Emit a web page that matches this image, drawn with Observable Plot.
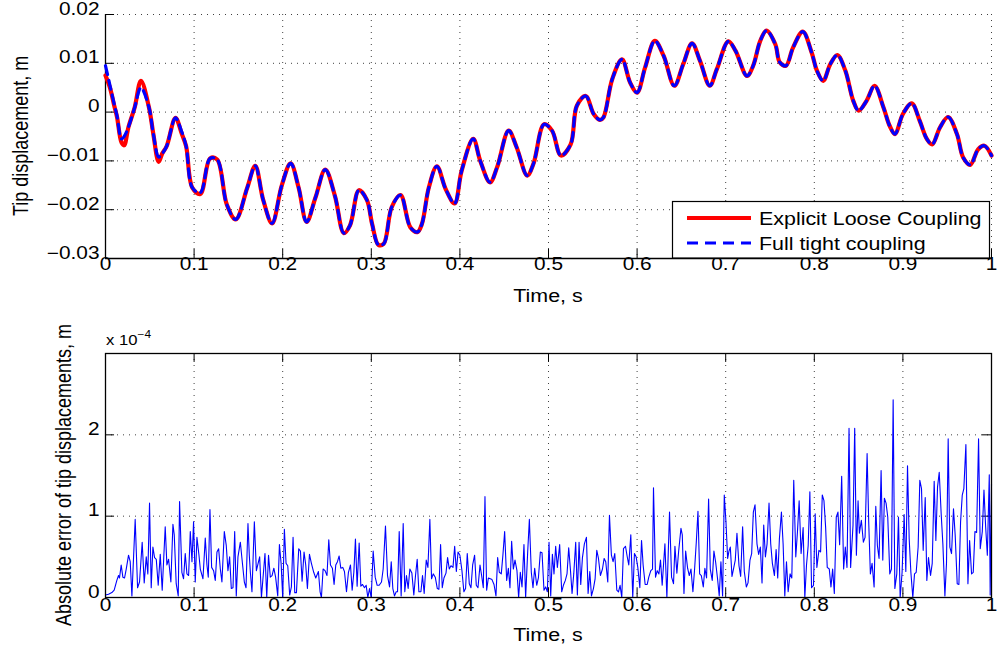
<!DOCTYPE html>
<html>
<head>
<meta charset="utf-8">
<script src="https://cdn.jsdelivr.net/npm/d3@7"></script>
<script src="https://cdn.jsdelivr.net/npm/@observablehq/plot@0.6"></script>
<style>
  html, body { margin: 0; padding: 0; background: #fff; }
  #wrap { position: relative; width: 997px; height: 652px; overflow: hidden; background: #fff; }
  #topPlot { position: absolute; left: 0; top: 0; }
  #botPlot { position: absolute; left: 0; top: 305px; }
  #overlay { position: absolute; left: 0; top: 0; pointer-events: none; }
  #overlay text { font-family: "Liberation Sans", Arial, Helvetica, sans-serif; fill: #000; }
</style>
</head>
<body>
<div id="wrap">
  <div id="topPlot"></div>
  <div id="botPlot"></div>
  <svg id="overlay" width="997" height="652"></svg>
</div>
<script>
// ---------- Data: top panel (tip displacement, m) ----------
const topTime = [0,0.005,0.010,0.013,0.018,0.021,0.026,0.033,0.040,0.049,
  0.054,0.060,0.064,0.069,0.079,0.086,0.091,0.098,0.107,0.118,
  0.126,0.137,0.147,0.160,0.169,0.178,0.188,0.199,0.209,0.218,
  0.227,0.237,0.248,0.259,0.269,0.276,0.286,0.295,0.301,0.308,
  0.314,0.323,0.333,0.344,0.352,0.357,0.365,0.374,0.384,0.394,
  0.402,0.415,0.423,0.434,0.442,0.455,0.464,0.476,0.483,0.495,
  0.504,0.514,0.525,0.532,0.542,0.551,0.558,0.562,0.572,0.583,
  0.592,0.600,0.609,0.620,0.630,0.642,0.652,0.662,0.671,0.682,
  0.690,0.703,0.711,0.724,0.731,0.739,0.746,0.756,0.761,0.768,
  0.776,0.787,0.797,0.803,0.810,0.818,0.826,0.835,0.844,0.850,
  0.859,0.868,0.878,0.885,0.891,0.900,0.910,0.919,0.927,0.933,
  0.942,0.951,0.961,0.968,0.976,0.985,0.992,1.000];

const tightCoupling = [0.0095,0.0055,0.0015,-0.0008,-0.0055,-0.0050,-0.0030,0.0010,0.0050,0.0010,
  -0.0045,-0.0092,-0.0085,-0.0070,-0.0012,-0.0040,-0.0070,-0.0155,-0.0165,-0.0095,
  -0.0097,-0.0190,-0.0220,-0.0155,-0.0110,-0.0180,-0.0228,-0.0150,-0.0105,-0.0155,
  -0.0225,-0.0175,-0.0118,-0.0172,-0.0248,-0.0232,-0.0160,-0.0180,-0.0230,-0.0272,
  -0.0270,-0.0195,-0.0170,-0.0236,-0.0246,-0.0230,-0.0154,-0.0111,-0.0158,-0.0187,
  -0.0120,-0.0055,-0.0100,-0.0144,-0.0113,-0.0038,-0.0072,-0.0130,-0.0106,-0.0025,
  -0.0038,-0.0089,-0.0066,0.0013,0.0033,-0.0004,-0.0016,-0.0011,0.0068,0.0108,
  0.0061,0.0040,0.0091,0.0146,0.0115,0.0054,0.0098,0.0141,0.0105,0.0054,
  0.0088,0.0145,0.0126,0.0074,0.0095,0.0146,0.0167,0.0139,0.0102,0.0095,
  0.0132,0.0165,0.0122,0.0085,0.0064,0.0098,0.0117,0.0085,0.0023,0.0003,
  0.0023,0.0054,0.0010,-0.0028,-0.0045,-0.0004,0.0018,-0.0018,-0.0055,-0.0066,
  -0.0031,-0.0010,-0.0045,-0.0093,-0.0108,-0.0076,-0.0069,-0.0089];

const looseCoupling = [0.0075,0.0050,0.0012,-0.0010,-0.0062,-0.0068,-0.0030,0.0010,0.0064,0.0010,
  -0.0045,-0.0102,-0.0085,-0.0070,-0.0012,-0.0044,-0.0070,-0.0155,-0.0168,-0.0095,
  -0.0097,-0.0190,-0.0220,-0.0155,-0.0110,-0.0180,-0.0228,-0.0150,-0.0105,-0.0155,
  -0.0225,-0.0175,-0.0118,-0.0172,-0.0248,-0.0232,-0.0160,-0.0180,-0.0230,-0.0272,
  -0.0270,-0.0195,-0.0170,-0.0236,-0.0246,-0.0230,-0.0154,-0.0111,-0.0158,-0.0187,
  -0.0120,-0.0055,-0.0100,-0.0144,-0.0113,-0.0038,-0.0072,-0.0130,-0.0106,-0.0025,
  -0.0038,-0.0089,-0.0066,0.0013,0.0033,-0.0004,-0.0016,-0.0011,0.0068,0.0108,
  0.0061,0.0040,0.0091,0.0146,0.0115,0.0054,0.0098,0.0141,0.0105,0.0054,
  0.0088,0.0145,0.0126,0.0074,0.0095,0.0146,0.0167,0.0139,0.0102,0.0095,
  0.0132,0.0165,0.0122,0.0085,0.0064,0.0098,0.0117,0.0085,0.0023,0.0003,
  0.0023,0.0054,0.0010,-0.0028,-0.0045,-0.0004,0.0018,-0.0018,-0.0055,-0.0066,
  -0.0031,-0.0010,-0.0045,-0.0093,-0.0108,-0.0076,-0.0069,-0.0089];

// ---------- Data: bottom panel (absolute error, x 1e-4 m) ----------
const errTime = [
  0,0.0034,0.0072,0.0098,0.0128,0.0147,0.0158,0.0177,0.0196,0.0215,
  0.0234,0.026,0.0279,0.0298,0.0335,0.0362,0.0384,0.0414,0.0437,0.046,
  0.0478,0.0497,0.0516,0.0535,0.0554,0.0573,0.0595,0.0618,0.064,0.0674,
  0.0693,0.0712,0.0738,0.0761,0.0776,0.0798,0.0821,0.0836,0.0862,0.0881,
  0.09,0.0919,0.0938,0.0957,0.0976,0.0994,0.1013,0.1032,0.1055,0.107,
  0.11,0.1126,0.1145,0.116,0.1179,0.1198,0.122,0.1239,0.1258,0.1277,
  0.1296,0.1314,0.1341,0.1363,0.1382,0.1401,0.142,0.1439,0.1458,0.1476,
  0.1495,0.1522,0.154,0.1567,0.1586,0.1608,0.1623,0.1635,0.1653,0.168,
  0.1703,0.174,0.176,0.18,0.182,0.184,0.186,0.188,0.19,0.192,
  0.1944,0.1963,0.1982,0.2,0.2019,0.2038,0.2057,0.2079,0.2098,0.2117,
  0.2136,0.2155,0.2181,0.22,0.2219,0.2241,0.226,0.2279,0.2302,0.2324,
  0.235,0.2373,0.2403,0.2422,0.2437,0.2456,0.2478,0.25,0.252,0.2539,
  0.2561,0.258,0.2599,0.2618,0.2637,0.2656,0.2678,0.2697,0.272,0.2742,
  0.2765,0.2784,0.2803,0.2821,0.284,0.2863,0.2882,0.2901,0.2923,0.2942,
  0.2961,0.298,0.2999,0.3021,0.3044,0.3066,0.3089,0.3115,0.3134,0.316,
  0.3183,0.3206,0.3225,0.3243,0.3262,0.3281,0.3296,0.3315,0.3337,0.336,
  0.3378,0.3397,0.3416,0.3435,0.3458,0.348,0.3499,0.3518,0.3537,0.356,
  0.3578,0.3597,0.362,0.3639,0.3661,0.368,0.3699,0.3722,0.3745,0.3763,
  0.3782,0.3801,0.382,0.3843,0.3861,0.388,0.3899,0.3922,0.3941,0.396,
  0.3979,0.4,0.4023,0.4045,0.4064,0.4083,0.4106,0.4125,0.4144,0.4166,
  0.4185,0.4204,0.4227,0.4245,0.4264,0.4283,0.4302,0.4321,0.4343,0.4362,
  0.4385,0.4407,0.4426,0.4445,0.4467,0.4486,0.4505,0.4528,0.4547,0.4565,
  0.4584,0.4603,0.4622,0.4644,0.4663,0.4682,0.4701,0.4723,0.4742,0.4765,
  0.4784,0.4806,0.4825,0.4844,0.4867,0.4886,0.4908,0.4927,0.4949,0.4968,
  0.4987,0.5006,0.5025,0.5044,0.5062,
  0.5081,0.51,0.5126,0.5149,0.5168,0.519,0.5209,0.5228,0.5247,0.5266,
  0.5285,0.5307,0.5326,0.5345,0.5364,0.5383,0.5405,0.5428,0.5447,0.5466,
  0.5485,0.5507,0.5526,0.5545,0.5564,0.5586,0.5609,0.5628,0.5646,0.5669,
  0.5688,0.571,0.5729,0.5748,0.5771,0.579,0.5808,0.5827,0.5846,0.5869,
  0.5887,0.5906,0.5929,0.5951,0.597,0.5989,0.6008,0.6031,0.605,0.6068,
  0.6091,0.6114,0.6132,0.6155,0.6174,0.6185,0.6208,0.6227,0.6246,0.6264,
  0.6283,0.6314,0.6336,0.6366,0.6389,0.6411,0.6427,0.6449,0.6468,0.6495,
  0.651,0.6529,0.6548,0.657,0.6589,0.6608,0.663,0.6649,0.6668,0.6687,
  0.6706,0.6725,0.6747,
  0.6765,0.6784,0.6807,0.6826,0.6848,0.6867,0.6886,0.6908,0.6927,0.6946,
  0.6965,0.6984,0.7003,0.7022,0.7037,0.7052,0.7071,0.709,0.7108,0.7127,
  0.715,0.7169,0.7191,0.721,0.7233,0.7252,0.7274,0.7293,0.7312,0.7331,
  0.7353,0.7372,0.7391,0.741,0.7429,0.7448,0.7467,0.7489,0.7508,0.7527,
  0.755,0.7569,0.7587,0.7606,0.7629,0.7648,0.7667,0.7686,0.7705,0.7727,
  0.7746,0.7768,0.7791,0.781,0.7829,0.7851,0.7874,0.7893,0.7912,0.7931,
  0.795,0.7969,0.7991,0.801,0.8029,0.8052,0.8071,0.809,0.8109,0.8128,
  0.8146,0.8169,0.8188,0.8207,0.8226,0.8248,0.8267,0.8286,0.8309,0.8331,
  0.835,0.8369,0.8392,0.841,0.8437,0.8456,0.8475,
  0.8494,0.8509,0.8531,0.8554,0.8573,0.8596,0.8614,0.8633,0.8652,0.8675,
  0.8694,0.8712,0.8731,0.8754,0.8773,0.8791,0.881,0.8829,0.8852,0.8871,
  0.889,0.8909,0.8931,0.895,0.8969,0.8991,0.9014,0.9033,0.9052,0.9071,
  0.909,0.9112,0.9131,0.915,0.9172,0.9191,0.921,0.9229,0.9252,0.927,
  0.9289,0.9312,0.9331,0.9353,0.9372,0.9391,0.941,0.9432,0.9451,0.9474,
  0.9492,0.9511,0.953,0.9549,0.9571,0.959,0.9613,0.9632,0.9651,0.967,
  0.9688,0.9711,0.9734,0.9753,0.9775,0.9794,0.9813,0.9832,0.9854,0.9873,
  0.9896,0.9915,0.9934,0.9953,0.9975,0.9985,1.0];

const errValue = [
  0.03,0.04,0.06,0.09,0.21,0.27,0.24,0.40,0.25,0.24,
  0.35,0.52,0.44,0.02,0.96,0.12,0.19,0.68,0.18,0.50,
  0.29,1.16,0.12,0.62,0.49,0.47,0.15,0.53,0.09,0.87,
  0.40,0.47,0.19,0.90,0.77,0.17,0.02,1.18,0.31,0.23,
  0.54,0.29,0.27,0.81,0.44,0.93,0.19,0.74,0.52,0.35,
  0.23,0.73,0.40,0.25,1.08,0.37,0.33,0.21,0.56,0.60,
  0.35,0.19,0.81,0.64,0.33,0.50,0.11,0.12,0.81,0.02,
  0.50,0.68,0.48,0.19,0.12,0.91,0.52,0.31,0.07,0.93,
  0.33,0.50,0.0,0.54,0.0,0.52,0.25,0.27,0.36,0.25,
  0.02,0.65,0.42,0.0,0.84,0.42,0.39,0.03,0.13,0.74,
  0.06,0.06,0.60,0.57,0.20,0.56,0.40,0.11,0.53,0.42,
  0.31,0.24,0.32,0.07,0.0,0.35,0.33,0.27,0.71,0.40,
  0.36,0.16,0.40,0.44,0.51,0.36,0.37,0.32,0.07,0.31,
  0.40,0.09,0.31,0.72,0.14,0.67,0.14,0.16,0.12,0.15,
  0.0,0.11,0.0,0.57,0.25,0.15,0.15,0.19,0.35,0.88,
  0.27,0.13,0.44,0.11,0.02,0.07,0.07,0.81,0.02,0.91,
  0.07,0.27,0.11,0.35,0.30,0.03,0.27,0.47,0.07,0.07,
  0.27,0.05,0.46,0.37,0.96,0.23,0.29,0.25,0.11,0.10,
  0.65,0.12,0.24,0.30,0.49,0.35,0.39,0.37,0.63,0.32,
  0.56,0.52,0.33,0.07,0.11,0.54,0.17,0.12,0.40,0.52,
  0.15,0.12,0.40,0.27,0.12,1.24,0.09,0.24,0.23,0.22,
  0.16,0.02,0.49,0.31,0.29,0.53,0.81,0.21,0.36,0.12,
  0.69,0.35,0.46,0.33,0.0,0.31,0.13,0.65,0.0,0.56,
  0.96,0.31,0.12,0.36,0.15,0.24,0.56,0.55,0.09,0.13,
  0.07,0.68,0.02,0.53,0.29,
  0.63,0.37,0.65,0.07,0.15,0.21,0.29,0.61,0.35,0.05,
  0.29,0.68,0.03,0.68,0.16,0.49,0.66,0.74,0.05,0.32,
  0.02,0.11,0.23,0.58,0.48,0.27,0.35,0.48,0.44,0.19,
  1.01,0.52,0.44,0.54,0.09,0.07,0.15,0.0,0.60,0.63,
  0.51,0.40,0.77,0.0,0.54,0.50,0.37,0.12,0.70,0.40,
  0.16,0.16,0.25,0.33,0.35,1.35,0.25,0.33,0.29,0.46,
  0.15,0.66,0.0,1.05,0.25,0.17,0.63,0.30,0.56,0.85,
  0.77,0.05,0.57,0.36,0.27,0.35,0.07,0.35,0.68,1.06,
  0.29,0.27,0.13,
  0.36,0.24,1.21,0.35,0.21,0.57,0.44,0.23,0.02,0.44,
  0.02,1.26,0.93,0.48,0.57,0.62,0.26,0.36,0.46,0.79,
  0.39,0.26,0.87,0.32,0.13,0.18,0.46,0.54,1.05,1.14,
  0.66,0.53,0.62,0.18,0.89,0.50,0.66,1.16,0.66,0.42,
  0.27,0.59,0.24,0.72,1.05,0.66,0.02,0.44,0.07,0.29,
  0.24,1.44,0.50,0.81,1.19,0.54,0.86,0.0,0.40,0.64,
  1.30,0.12,0.15,1.03,0.37,0.58,0.56,1.26,1.19,0.86,
  0.37,0.35,0.13,0.35,0.05,0.99,1.05,0.65,1.49,0.35,
  0.62,0.37,2.08,0.37,0.89,2.08,0.52,
  1.19,0.79,0.95,0.68,0.74,1.77,0.93,0.29,0.42,0.13,
  1.12,0.64,0.48,1.56,0.46,1.22,1.16,0.99,0.29,0.35,
  2.43,0.11,0.29,0.99,0.0,0.31,1.02,0.32,1.62,0.72,
  0.31,0.0,0.29,0.31,0.62,1.44,1.34,0.58,1.23,0.21,
  0.49,0.27,0.42,1.43,0.70,1.36,1.54,1.03,0.66,0.02,
  0.42,1.95,0.62,0.54,1.09,0.77,0.17,0.16,0.93,1.26,
  1.34,1.88,0.17,0.70,0.29,0.31,0.81,0.80,1.95,0.60,
  0.81,1.32,0.87,0.52,1.51,0.03,1.4];

// ---------- Ticks & labels ----------
const xTicks = [0,0.1,0.2,0.3,0.4,0.5,0.6,0.7,0.8,0.9,1];
const yTicksTop = [-0.03,-0.02,-0.01,0,0.01,0.02];
const yTicksBot = [0,1,2];
const xLabel = "Time, s";
const yLabelTop = "Tip displacement, m";
const yLabelBot = "Absolute error of tip displacements, m";
const seriesNames = ["Explicit Loose Coupling", "Full tight coupling"];

// ---------- Build tables ----------
const topData = topTime.map((t, i) => ({t, loose: looseCoupling[i], tight: tightCoupling[i]}));
const errData = errTime.map((t, i) => ({t, e: errValue[i]}));

const fmtX = d => d === 0 ? "0" : (d === 1 ? "1" : d.toFixed(1));
const fmtTop = d => Math.abs(d) < 1e-9 ? "0" : (d < 0 ? "\u2212" : "") + Math.abs(d).toFixed(2);

const FONT = "'Liberation Sans', Arial, Helvetica, sans-serif";
const STRETCH = 1.19;
const gridStyle = {stroke: "#000", strokeOpacity: 0.75, strokeWidth: 1, strokeDasharray: "1,5"};

function stretchText(svg, k) {
  svg.querySelectorAll("text").forEach(t => {
    const x = t.getAttribute("x"), y = t.getAttribute("y");
    let tr = t.getAttribute("transform") || "";
    if (x != null || y != null) {
      tr += ` translate(${+x || 0},${+y || 0})`;
      t.removeAttribute("x"); t.removeAttribute("y");
    }
    t.setAttribute("transform", (tr + ` scale(${k},1)`).trim());
  });
}

// ---------- Top panel ----------
const topPlot = Plot.plot({
  width: 997, height: 305,
  marginLeft: 105, marginRight: 6, marginTop: 14, marginBottom: 47,
  style: {fontFamily: FONT, fontSize: "17.5px", color: "#000", background: "transparent", overflow: "visible"},
  x: {domain: [0, 1], ticks: xTicks, tickFormat: fmtX, tickSize: 0, tickPadding: 11, label: null},
  y: {domain: [-0.03, 0.02], ticks: yTicksTop, tickFormat: fmtTop, tickSize: 0, tickPadding: 6, label: null},
  marks: [
    Plot.gridX(xTicks, gridStyle),
    Plot.gridY(yTicksTop, gridStyle),
    Plot.ruleY(yTicksTop, {y: d => d, x1: 0, x2: 0.0102, stroke: "#000"}),
    Plot.ruleX(xTicks, {x: d => d, y1: -0.03, y2: -0.03 + 0.00185, stroke: "#000"}),
    Plot.ruleX([0], {stroke: "#000", strokeWidth: 1.3}),
    Plot.ruleY([-0.03], {stroke: "#000", strokeWidth: 1.3}),
    Plot.line(topData, {x: "t", y: "loose", stroke: "#ff0000", strokeWidth: 4.2, curve: "catmull-rom"}),
    Plot.line(topData, {x: "t", y: "tight", stroke: "#0000ff", strokeWidth: 3.2, strokeDasharray: "9,6", curve: "catmull-rom"})
  ]
});
stretchText(topPlot, STRETCH);
document.getElementById("topPlot").appendChild(topPlot);

// ---------- Bottom panel ----------
const botPlot = Plot.plot({
  width: 997, height: 347,
  marginLeft: 105, marginRight: 6, marginTop: 48, marginBottom: 55,
  style: {fontFamily: FONT, fontSize: "17.5px", color: "#000", background: "transparent", overflow: "visible"},
  x: {domain: [0, 1], ticks: xTicks, tickFormat: fmtX, tickSize: 0, tickPadding: 13, label: null},
  y: {domain: [0, 3], ticks: yTicksBot, tickFormat: d => String(d), tickSize: 0, tickPadding: 6, label: null},
  marks: [
    Plot.gridX(xTicks, gridStyle),
    Plot.gridY(yTicksBot, gridStyle),
    Plot.ruleY(yTicksBot, {y: d => d, x1: 0, x2: 0.0102, stroke: "#000"}),
    Plot.ruleY(yTicksBot, {y: d => d, x1: 1 - 0.0102, x2: 1, stroke: "#000"}),
    Plot.ruleX(xTicks, {x: d => d, y1: 0, y2: 0.11, stroke: "#000"}),
    Plot.ruleX(xTicks, {x: d => d, y1: 3 - 0.11, y2: 3, stroke: "#000"}),
    Plot.line(errData, {x: "t", y: "e", stroke: "#0000ff", strokeWidth: 1.1}),
    Plot.frame({stroke: "#000", strokeWidth: 1.3})
  ]
});
stretchText(botPlot, STRETCH);
document.getElementById("botPlot").appendChild(botPlot);

// ---------- Overlay: axis titles, legend, exponent ----------
const ov = d3.select("#overlay");
ov.append("text").attr("transform", `translate(28,136) scale(${STRETCH},1) rotate(-90)`)
  .attr("text-anchor", "middle").attr("font-size", 18).text(yLabelTop);
ov.append("text").attr("transform", `translate(71,475) scale(${STRETCH},1) rotate(-90)`)
  .attr("text-anchor", "middle").attr("font-size", 18).text(yLabelBot);
ov.append("text").attr("transform", `translate(548,302) scale(${STRETCH},1)`)
  .attr("text-anchor", "middle").attr("font-size", 18).text(xLabel);
ov.append("text").attr("transform", `translate(548,641) scale(${STRETCH},1)`)
  .attr("text-anchor", "middle").attr("font-size", 18).text(xLabel);

// exponent label
const ex = ov.append("text").attr("transform", `translate(106,345) scale(${STRETCH},1)`).attr("font-size", 14);
ex.append("tspan").text("x 10");
ex.append("tspan").attr("font-size", 10).attr("dy", -7).text("\u22124");

// legend
const lg = ov.append("g");
lg.append("rect").attr("x", 672.5).attr("y", 201.5).attr("width", 317).attr("height", 56.5)
  .attr("fill", "#fff").attr("stroke", "#000").attr("stroke-width", 1.2);
lg.append("line").attr("x1", 687).attr("x2", 751).attr("y1", 218).attr("y2", 218)
  .attr("stroke", "#ff0000").attr("stroke-width", 4);
lg.append("line").attr("x1", 687).attr("x2", 751).attr("y1", 243).attr("y2", 243)
  .attr("stroke", "#0000ff").attr("stroke-width", 3.2).attr("stroke-dasharray", "11,7");
lg.append("text").attr("transform", `translate(759,224.5) scale(${STRETCH},1)`).attr("font-size", 18).text(seriesNames[0]);
lg.append("text").attr("transform", `translate(759,249.5) scale(${STRETCH},1)`).attr("font-size", 18).text(seriesNames[1]);
</script>
</body>
</html>
